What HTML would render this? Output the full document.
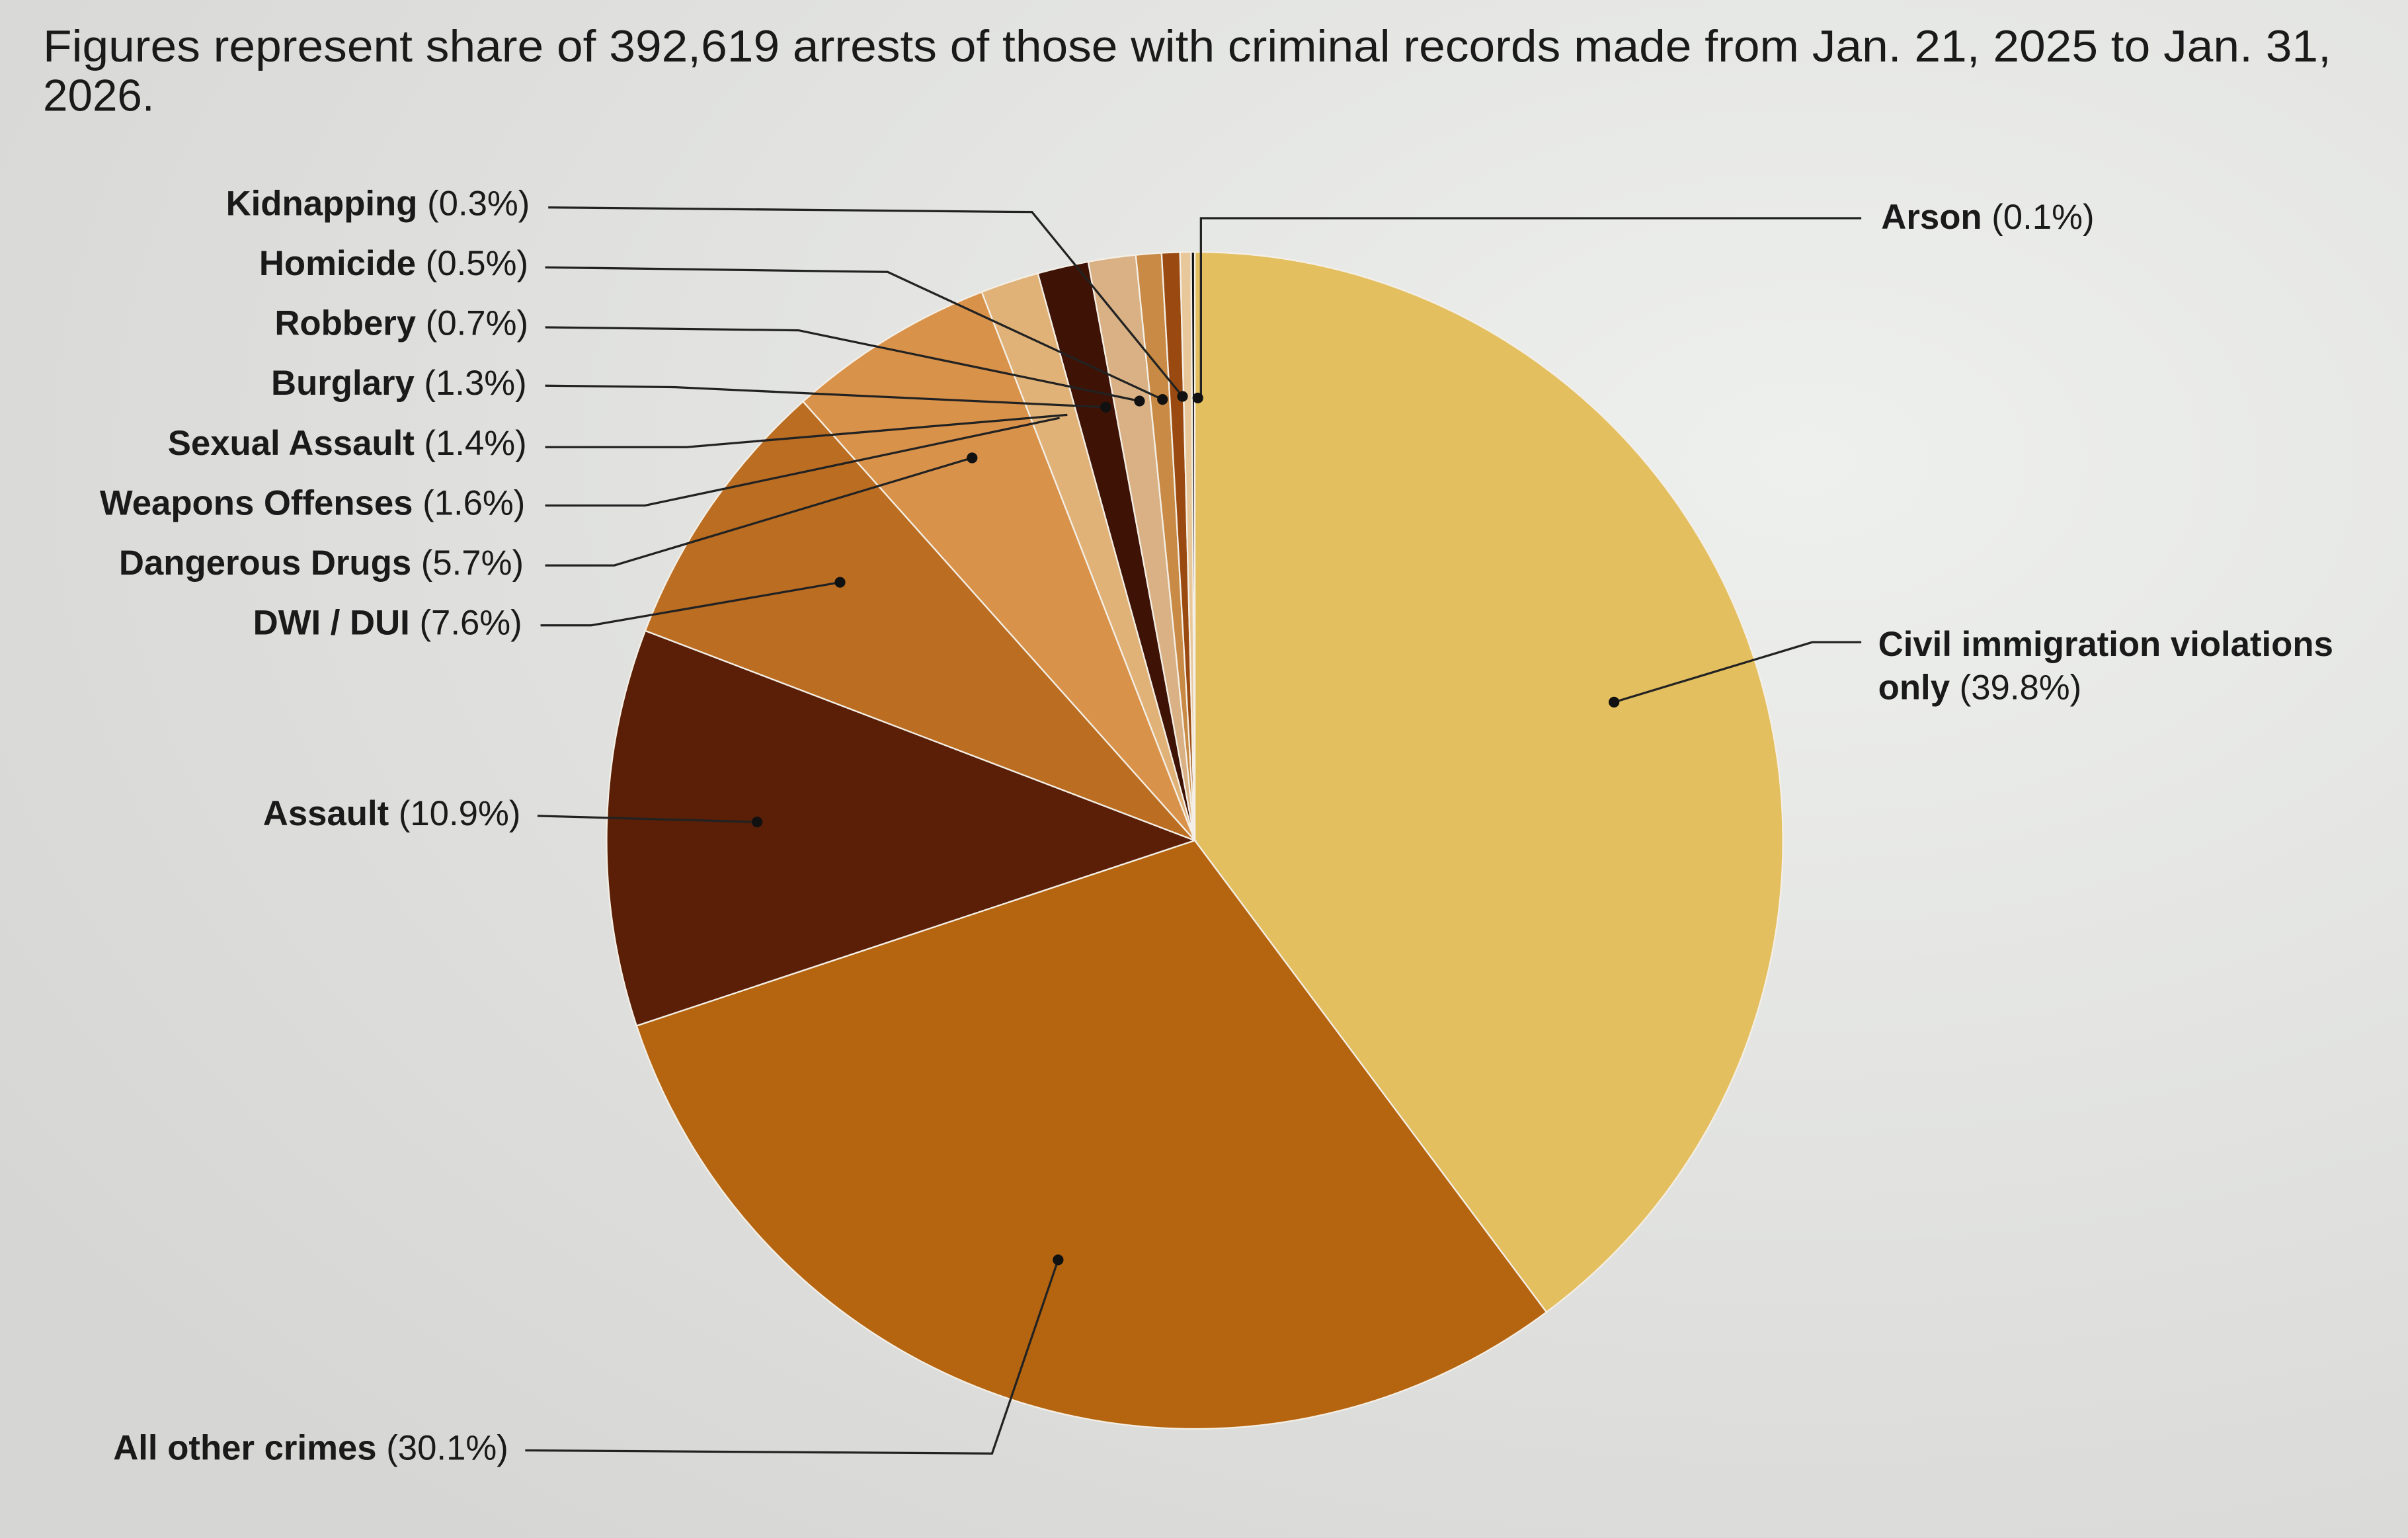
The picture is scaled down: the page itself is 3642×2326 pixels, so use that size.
<!DOCTYPE html>
<html><head><meta charset="utf-8"><style>
html,body{margin:0;padding:0;width:3642px;height:2326px;overflow:hidden;background:#e2e3e0}
svg{display:block}
text{font-family:"Liberation Sans",sans-serif;fill:#1a1a1a}
.l{font-size:22.7px}
.b{font-weight:bold}
</style></head><body>
<svg id="s" width="3642" height="2326" viewBox="0 0 1568 1001" preserveAspectRatio="none">
<defs><radialGradient id="bg" cx="0.75" cy="0.3" r="0.9"><stop offset="0" stop-color="#eef0ee"/><stop offset="1" stop-color="#d6d6d4"/></radialGradient></defs>
<rect width="1568" height="1001" fill="url(#bg)"/>
<text x="28" y="40" style="font-size:29px" textLength="1490" lengthAdjust="spacingAndGlyphs">Figures represent share of 392,619 arrests of those with criminal records made from Jan. 21, 2025 to Jan. 31,</text>
<text x="28" y="72" style="font-size:29px">2026.</text>
<g id="pie"></g>
<g fill="none" stroke="#222" stroke-width="1.4">
<polyline points="357,135 672,138 770,258"/>
<polyline points="355,174 578,177 757,260"/>
<polyline points="355,213 520,215 742,261"/>
<polyline points="355,251 440,252 720,265"/>
<polyline points="355,291 447,291 695,270"/>
<polyline points="355,329 420,329 690,272"/>
<polyline points="355,368 400,368 633,298"/>
<polyline points="352,407 385,407 547,379"/>
<polyline points="350,531 493,535"/>
<polyline points="342,944 646,946 689,820"/>
<polyline points="1212,418 1180,418 1051,457"/>
<polyline points="1212,142 782,142 782,258"/>
</g>
<g fill="#111">
<circle cx="770" cy="258" r="3.5"/><circle cx="780" cy="259" r="3.5"/><circle cx="757" cy="260" r="3.5"/><circle cx="742" cy="261" r="3.5"/><circle cx="720" cy="265" r="3.5"/><circle cx="633" cy="298" r="3.5"/><circle cx="547" cy="379" r="3.5"/><circle cx="493" cy="535" r="3.5"/><circle cx="689" cy="820" r="3.5"/><circle cx="1051" cy="457" r="3.5"/>
</g>
<g class="l" text-anchor="end">
<text x="345" y="140"><tspan class="b">Kidnapping</tspan> (0.3%)</text>
<text x="344" y="179"><tspan class="b">Homicide</tspan> (0.5%)</text>
<text x="344" y="218"><tspan class="b">Robbery</tspan> (0.7%)</text>
<text x="343" y="257"><tspan class="b">Burglary</tspan> (1.3%)</text>
<text x="343" y="296"><tspan class="b">Sexual Assault</tspan> (1.4%)</text>
<text x="342" y="335"><tspan class="b">Weapons Offenses</tspan> (1.6%)</text>
<text x="341" y="374"><tspan class="b">Dangerous Drugs</tspan> (5.7%)</text>
<text x="340" y="413"><tspan class="b">DWI / DUI</tspan> (7.6%)</text>
<text x="339" y="537"><tspan class="b">Assault</tspan> (10.9%)</text>
<text x="331" y="950"><tspan class="b">All other crimes</tspan> (30.1%)</text>
</g>
<g class="l">
<text x="1225" y="149"><tspan class="b">Arson</tspan> (0.1%)</text>
<text x="1223" y="427"><tspan class="b">Civil immigration violations</tspan></text>
<text x="1223" y="455"><tspan class="b">only</tspan> (39.8%)</text>
</g>
</svg>
<script>
var d=[[39.8,"#e3bf60"],[30.1,"#b5640f"],[10.9,"#5a1f06"],[7.6,"#bb6d22"],[5.7,"#d9924a"],[1.6,"#e0b278"],[1.4,"#3e1204"],[1.3,"#d9b185"],[0.7,"#c88a45"],[0.5,"#9a4a10"],[0.3,"#e8c79a"],[0.1,"#111"]];
var cx=778,cy=547,r=383,a=0,g=document.getElementById("pie"),h="";
var tot=0;d.forEach(function(x){tot+=x[0]});
d.forEach(function(x){var b=a+x[0]/tot*2*Math.PI;
var x1=cx+r*Math.sin(a),y1=cy-r*Math.cos(a),x2=cx+r*Math.sin(b),y2=cy-r*Math.cos(b);
h+='<path d="M'+cx+','+cy+'L'+x1+','+y1+'A'+r+','+r+' 0 '+((b-a)>Math.PI?1:0)+' 1 '+x2+','+y2+'Z" fill="'+x[1]+'" stroke="#f4efe6" stroke-width="1"/>';a=b;});
g.innerHTML=h;
</script>
</body></html>
